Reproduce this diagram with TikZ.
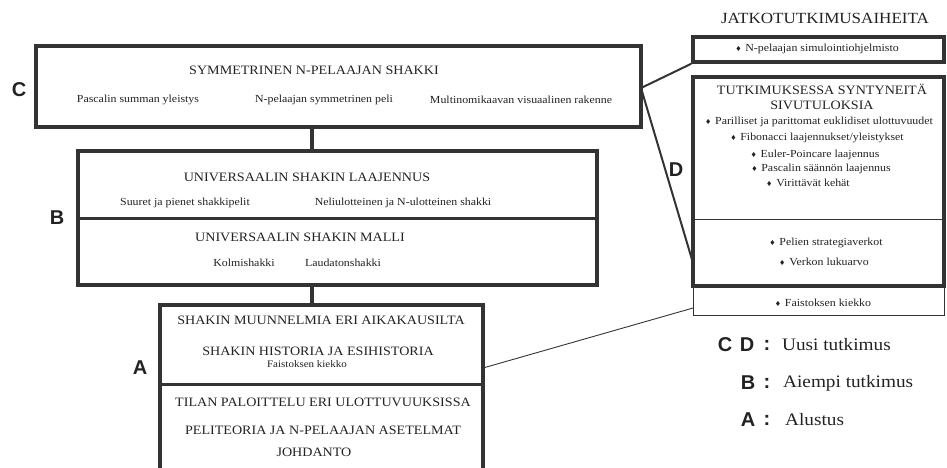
\documentclass[tikz,border=0pt]{standalone}
\usepackage{fontspec}
\setmainfont{Liberation Serif}[FakeStretch=1.1]
\newfontfamily\labf{Liberation Sans}
\newfontfamily\symf{DejaVu Sans}
\newcommand\bul{{\symf\fontsize{7}{8}\selectfont ♦}\hspace{0.35em}}
\definecolor{ink}{HTML}{222222}
\definecolor{edge}{HTML}{333333}
\tikzset{
  thickbox/.style={draw=edge, line width=3.5pt, rectangle, inner sep=0pt},
  thinbox/.style={draw=edge, line width=1pt, rectangle, inner sep=0pt},
  bigt/.style={text=ink, inner sep=0pt, font=\fontsize{12.8}{14}\selectfont},
  smallt/.style={text=ink, inner sep=0pt, font=\fontsize{10.8}{12}\selectfont},
  tinyt/.style={text=ink, inner sep=0pt, font=\fontsize{10}{11}\selectfont},
  leglab/.style={text=ink, inner sep=0pt, font=\labf\bfseries\fontsize{20}{22}\selectfont},
  legt/.style={text=ink, inner sep=0pt, anchor=west, font=\fontsize{17.5}{19}\selectfont},
  stub/.style={draw=edge, line width=3.5pt},
  link/.style={draw=edge, line width=2pt},
  thinlink/.style={draw=edge, line width=0.9pt},
}
\begin{document}
\begin{tikzpicture}[x=1pt,y=-1pt]
\path[use as bounding box] (0,0) rectangle (947,467);
\clip (0,0) rectangle (947,467);
% boxes
\node[thickbox, minimum width=605pt, minimum height=81pt] (C) at (338.5,86.5) {};
\node[thickbox, minimum width=519pt, minimum height=134pt] (B) at (337.5,218) {};
\node[thickbox, minimum width=323pt, minimum height=170pt] (A) at (321.5,390) {};
\node[thickbox, minimum width=251pt, minimum height=25pt] (T) at (818.5,49.5) {};
\node[thickbox, minimum width=251pt, minimum height=209pt] (D) at (818.5,181.5) {};
\node[thinbox, minimum width=251pt, minimum height=29pt] (F) at (818.5,300.5) {};
% dividers
\coordinate (bdiv) at (0,218);
\draw[stub, line width=3pt] (B.west |- bdiv) -- (B.east |- bdiv);
\coordinate (adiv) at (0,384);
\draw[stub, line width=3pt] (A.west |- adiv) -- (A.east |- adiv);
\coordinate (ddiv) at (0,219);
\draw[thinlink] (D.west |- ddiv) -- (D.east |- ddiv);
% connectors
\coordinate (cx) at (312,0);
\draw[stub] (C.south -| cx) -- (B.north -| cx);
\draw[stub] (B.south -| cx) -- (A.north -| cx);
\coordinate (cout) at (641,88);
\coordinate (din) at (693,263);
\draw[link] (cout) -- (T.south west);
\draw[link] (cout) -- (din);
\coordinate (aout) at (483,368);
\coordinate (fin) at (693,308);
\draw[thinlink] (aout) -- (fin);
% C texts
\node[bigt] (c1) at (314,70) {SYMMETRINEN N-PELAAJAN SHAKKI};
\node[smallt] (c2) at (138,100) {Pascalin summan yleistys};
\node[smallt] (c3) at (324,100) {N-pelaajan symmetrinen peli};
\node[smallt] (c4) at (521,100) {Multinomikaavan visuaalinen rakenne};
% B texts
\node[bigt] (b1) at (307,177) {UNIVERSAALIN SHAKIN LAAJENNUS};
\node[smallt] (b2) at (185,203) {Suuret ja pienet shakkipelit};
\node[smallt] (b3) at (403,203) {Neliulotteinen ja N-ulotteinen shakki};
\node[bigt] (b4) at (300,237) {UNIVERSAALIN SHAKIN MALLI};
\node[smallt] (b5) at (244,263) {Kolmishakki};
\node[smallt] (b6) at (343,263) {Laudatonshakki};
% A texts
\node[bigt] (a1) at (321,320) {SHAKIN MUUNNELMIA ERI AIKAKAUSILTA};
\node[bigt] (a2) at (318,351) {SHAKIN HISTORIA JA ESIHISTORIA};
\node[tinyt] (a3) at (307,364) {Faistoksen kiekko};
\node[bigt] (a4) at (323,402) {TILAN PALOITTELU ERI ULOTTUVUUKSISSA};
\node[bigt] (a5) at (323,430) {PELITEORIA JA N-PELAAJAN ASETELMAT};
\node[bigt] (a6) at (314,452) {JOHDANTO};
% right texts
\node[bigt, font=\fontsize{15.5}{17}\selectfont] (j1) at (825,18) {JATKOTUTKIMUSAIHEITA};
\node[smallt] (t1) at (817,49) {\bul N-pelaajan simulointiohjelmisto};
\node[bigt] (d1) at (822,89) {TUTKIMUKSESSA SYNTYNEITÄ};
\node[bigt] (d2) at (822,105) {SIVUTULOKSIA};
\node[smallt] (d3) at (819,122) {\bul Parilliset ja parittomat euklidiset ulottuvuudet};
\node[smallt] (d4) at (817,138) {\bul Fibonacci laajennukset/yleistykset};
\node[smallt] (d5) at (815,155) {\bul Euler-Poincare laajennus};
\node[smallt] (d6) at (821,169) {\bul Pascalin säännön laajennus};
\node[smallt] (d7) at (808,183) {\bul Virittävät kehät};
\node[smallt] (d8) at (826,243) {\bul Pelien strategiaverkot};
\node[smallt] (d9) at (824,262) {\bul Verkon lukuarvo};
\node[smallt] (f1) at (823,303) {\bul Faistoksen kiekko};
% side labels
\node[leglab] (lc) at (19,90) {C};
\node[leglab] (lb) at (57,218) {B};
\node[leglab] (la) at (140,368) {A};
\node[leglab] (ld) at (676,170) {D};
% legend
\node[leglab] (gc) at (725,345) {C};
\node[leglab] (gd) at (747,345) {D};
\node[leglab] (gcol1) at (767,345) {:};
\node[legt] (gt1) at (782,345) {Uusi tutkimus};
\node[leglab] (gb) at (748,383) {B};
\node[leglab] (gcol2) at (767,383) {:};
\node[legt] (gt2) at (783,383) {Aiempi tutkimus};
\node[leglab] (ga) at (748,420) {A};
\node[leglab] (gcol3) at (767,420) {:};
\node[legt] (gt3) at (785,420) {Alustus};
\end{tikzpicture}
\end{document}
